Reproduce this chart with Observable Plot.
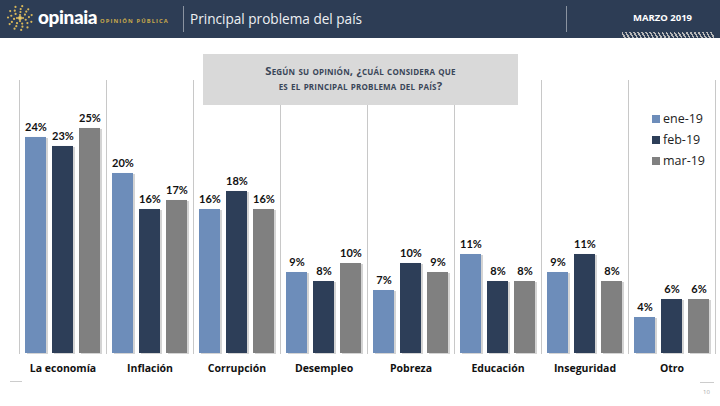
<!DOCTYPE html>
<html>
<head>
<meta charset="utf-8">
<script src="https://cdn.jsdelivr.net/npm/d3@7"></script>
<script src="https://cdn.jsdelivr.net/npm/@observablehq/plot@0.6"></script>
<style>
  html, body { margin:0; padding:0; background:#fff; }
  #page { position:relative; width:720px; height:406px; overflow:hidden; font-family:"Open Sans", sans-serif; }
  #header { position:absolute; left:0; top:0; width:720px; height:38px; background:#2d3d55; }
  #header .div1 { position:absolute; left:183px; top:6px; width:1px; height:26px; background:#8a93a0; }
  #header .div2 { position:absolute; left:566px; top:6px; width:1px; height:26px; background:#8a93a0; }
  #brand { position:absolute; left:38px; top:5px; color:#fff; font-family:"Lato", sans-serif; font-weight:900; font-size:19px; letter-spacing:-0.4px; }
  #sub { position:absolute; left:100px; top:17px; color:#c9a94c; font-family:"Open Sans"; font-weight:700; font-size:5.8px; letter-spacing:1.1px; }
  #title { position:absolute; left:190px; top:9px; color:#eef0f3; font-family:"Open Sans"; font-size:13.6px; }
  #date { position:absolute; left:633px; top:11px; color:#fff; font-family:"Open Sans"; font-weight:700; font-size:9.5px; }
  #slashes { position:absolute; left:622px; top:32px; width:92px; height:6px;
    background:repeating-linear-gradient(60deg, #2d3d55 0 2px, #b8b8b8 2px 3.5px); }
  #qbox { position:absolute; left:203px; top:54px; width:315px; height:51px; background:#d9d9d9; z-index:2;
    color:#3a4658; font-family:"Open Sans"; font-weight:700; font-size:11.3px; font-variant:small-caps; text-align:center; line-height:15px; padding-top:9px; box-sizing:border-box; letter-spacing:0.2px; }
  #chart { position:absolute; left:0; top:80px; }
  #legend { position:absolute; left:652px; top:108px; z-index:3; font-family:"Open Sans"; font-size:12.5px; color:#222; }
  #legend div { height:21px; display:flex; align-items:center; }
  #legend span.sw { display:inline-block; width:8px; height:8px; margin-right:3px; }
  #pnum { position:absolute; left:703px; top:388px; font-size:6px; color:#aaa; }
  #pline { position:absolute; left:700px; top:382px; width:14px; height:1px; background:#ccc; }
  #lline { position:absolute; left:10px; top:381px; width:12px; height:1px; background:#ccc; }
  g[aria-label^="fx-axis"] text { font-weight:700; }
</style>
</head>
<body>
<div id="page">
  <div id="header">
    <svg id="sun" width="36" height="38" style="position:absolute;left:2px;top:0"></svg>
    <div id="brand">opinaia</div>
    <div id="sub">OPINIÓN PÚBLICA</div>
    <div class="div1"></div>
    <div id="title">Principal problema del país</div>
    <div class="div2"></div>
    <div id="date">MARZO 2019</div>
    <div id="slashes"></div>
  </div>
  <div id="qbox">Según su opinión, ¿cuál considera que<br>es el principal problema del país?</div>
  <div id="chart"></div>
  <div id="legend"></div>
  <div id="lline"></div>
  <div id="pline"></div>
  <div id="pnum">10</div>
</div>
<script>
const categories = ["La economía","Inflación","Corrupción","Desempleo","Pobreza","Educación","Inseguridad","Otro"];
const series = ["ene-19","feb-19","mar-19"];
const ene19 = [24,20,16,9,7,11,9,4];
const feb19 = [23,16,18,8,10,8,11,6];
const mar19 = [25,17,16,10,9,8,8,6];
const colors = ["#6d8dba","#2d3e58","#808080"];

const values = [ene19, feb19, mar19];
const data = [];
categories.forEach((c, i) => series.forEach((s, j) => data.push({cat:c, serie:s, value:values[j][i]})));

// decorative logo dots
const sun = d3.select("#sun");
[[3,4],[6,7],[9,9],[12,11]].forEach(([r,n],k)=>{
  for(let i=0;i<n;i++){
    const a = 2*Math.PI*i/n + k*0.3;
    sun.append("circle").attr("cx",18+r*Math.cos(a)).attr("cy",18+r*Math.sin(a)).attr("r",1.1).attr("fill","#d8b75a");
  }
});
sun.append("circle").attr("cx",18).attr("cy",18).attr("r",2).attr("fill","#e6c868");

const chart = Plot.plot({
  width: 720,
  height: 303,
  marginLeft: 17,
  marginRight: 4,
  marginTop: 0,
  marginBottom: 30,
  style: {fontFamily: "Open Sans", fontSize: "10.5px", color: "#111", background: "transparent"},
  fx: {domain: categories, padding: 0, label: null, axis: "bottom", tickSize: 0, tickPadding: 11},
  x: {domain: series, axis: null, paddingInner: 0.236, paddingOuter: 0.2},
  y: {domain: [0, 30.33], axis: null},
  color: {domain: series, range: colors},
  marks: [
    Plot.frame({anchor: "left", stroke: "#c8c8c8"}),
    Plot.frame({anchor: "right", stroke: "#c8c8c8"}),
    Plot.barY(data, {fx: "cat", x: "serie", y: "value", fill: "#d4d4d4", dx: 2, dy: 1}),
    Plot.barY(data, {fx: "cat", x: "serie", y: "value", fill: "serie"}),
    Plot.text(data, {fx: "cat", x: "serie", y: "value", text: d => d.value + "%", dy: -10,
      fontWeight: "bold", fontSize: 11, fontFamily: "Lato", fill: "#111"})
  ]
});
document.getElementById("chart").appendChild(chart);

const leg = d3.select("#legend");
series.forEach((s, i) => {
  const row = leg.append("div");
  row.append("span").attr("class","sw").style("background", colors[i]);
  row.append("span").text(s);
});
</script>
</body>
</html>
